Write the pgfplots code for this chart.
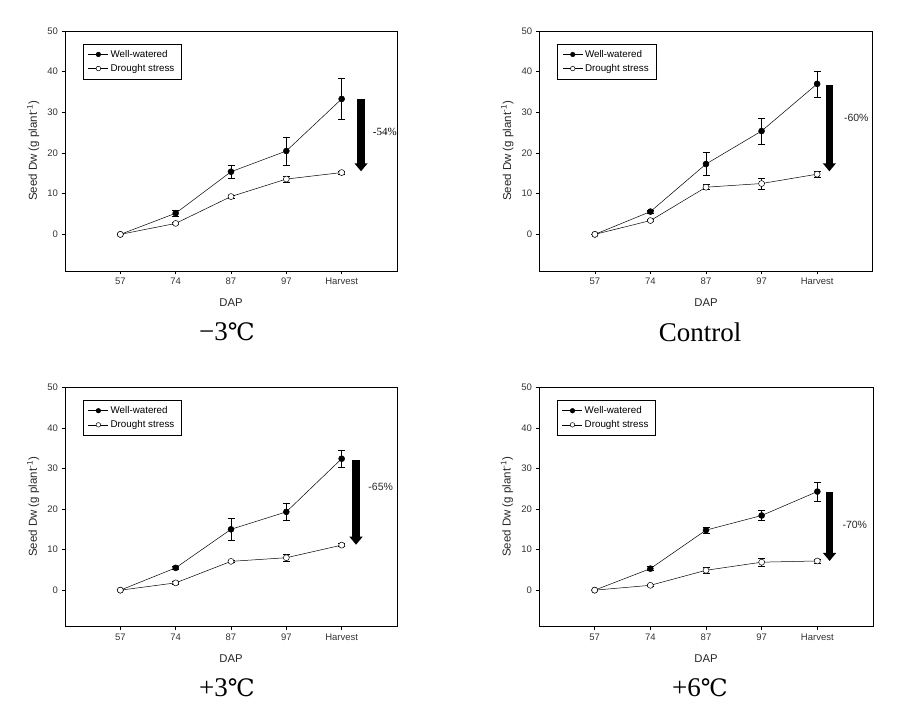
\documentclass[border=0pt]{standalone}
\usepackage{pgfplots}
\pgfplotsset{compat=1.18}
\usepackage{fontspec}
\setmainfont{Liberation Sans}
\newfontfamily\serifnum{Liberation Serif}
\newfontfamily\degfont{DejaVu Serif}
\usetikzlibrary{arrows.meta}

\pgfplotsset{
  panel/.style={
    scale only axis, height=240pt,
    xmin=-1, xmax=5, ymin=-9, ymax=50,
    xtick={0,1,2,3,4}, xticklabels={57,74,87,97,Harvest},
    ytick={0,10,20,30,40,50},
    tick align=outside, xtick pos=bottom, ytick pos=left,
    major tick length=3.5pt,
    tick style={black, line width=0.6pt},
    axis line style={line width=0.7pt},
    /pgf/number format/assume math mode=true,
    ticklabel style={font=\fontsize{9.5}{10}\selectfont, text=black!80},
    xlabel={DAP},
    xlabel style={at={(axis description cs:0.5,0)}, anchor=center, yshift=-32pt, font=\fontsize{11.3}{12}\selectfont, text=black!85},
    ylabel={Seed Dw (g plant\textsuperscript{-1})},
    ylabel style={at={(axis description cs:-0.096,0.5)}, anchor=center, font=\fontsize{11.5}{12}\selectfont, text=black!85},
    legend style={at={(0.054,0.946)}, anchor=north west, draw=black, font=\fontsize{9.8}{11}\selectfont,
      inner xsep=5pt, inner ysep=4pt, row sep=1.5pt, cells={anchor=west},
      /tikz/every even column/.append style={column sep=3.5pt}},
    legend image code/.code={\draw[mark repeat=2, mark phase=2, mark size=2.3pt] plot coordinates {(0pt,0pt) (10pt,0pt) (20pt,0pt)};},
    clip=false,
  },
  ww/.style={black, line width=0.5pt, mark=*, mark size=3pt, mark options={fill=black, line width=0.5pt},
    error bars/.cd, y dir=both, y explicit,
    error bar style={line width=0.6pt},
    error mark options={rotate=90, mark size=3.5pt, line width=0.6pt}},
  ds/.style={black, line width=0.5pt, mark=*, mark size=3pt, mark options={fill=white, line width=0.5pt},
    error bars/.cd, y dir=both, y explicit,
    error bar style={line width=0.6pt},
    error mark options={rotate=90, mark size=3.5pt, line width=0.6pt}},
  bigarrow/.style={forget plot, black, line width=7.3pt, -{Triangle[length=8pt 0 0, width=12.7pt 0 0]}},
}

\begin{document}
\begin{tikzpicture}
\path[use as bounding box] (0,0) rectangle (903pt,706pt);

% ---------- -3 C ----------
\begin{axis}[panel, width=332pt, at={(65pt,435pt)}, anchor=south west]
\addplot+[ww] coordinates {(0,0) +- (0,0) (1,5.2) +- (0,0.7) (2,15.4) +- (0,1.6) (3,20.5) +- (0,3.4) (4,33.3) +- (0,5.0)};
\addlegendentry{Well-watered}
\addplot+[ds] coordinates {(0,0) +- (0,0) (1,2.7) +- (0,0.3) (2,9.3) +- (0,0.4) (3,13.6) +- (0,0.7) (4,15.2) +- (0,0.4)};
\addlegendentry{Drought stress}
\addplot[bigarrow] coordinates {(4.35,33.3) (4.35,15.5)};
\node[anchor=west, font=\serifnum\fontsize{11}{12}\selectfont] at (axis cs:4.5,25.2) {-54\%};
\end{axis}

% ---------- Control ----------
\begin{axis}[panel, width=333.4pt, at={(539.3pt,435pt)}, anchor=south west]
\addplot+[ww] coordinates {(0,0) +- (0,0) (1,5.6) +- (0,0.4) (2,17.3) +- (0,2.8) (3,25.4) +- (0,3.2) (4,37.0) +- (0,3.2)};
\addlegendentry{Well-watered}
\addplot+[ds] coordinates {(0,0) +- (0,0) (1,3.4) +- (0,0.3) (2,11.6) +- (0,0.6) (3,12.5) +- (0,1.4) (4,14.8) +- (0,0.8)};
\addlegendentry{Drought stress}
\addplot[bigarrow] coordinates {(4.22,36.7) (4.22,15.5)};
\node[anchor=west, font=\fontsize{10.5}{12}\selectfont, text=black!85] at (axis cs:4.42,28.7) {-60\%};
\end{axis}

% ---------- +3 C ----------
\begin{axis}[panel, width=332pt, height=239.4pt, at={(65pt,79.3pt)}, anchor=south west]
\addplot+[ww] coordinates {(0,0) +- (0,0) (1,5.5) +- (0,0.4) (2,15.0) +- (0,2.8) (3,19.3) +- (0,2.1) (4,32.4) +- (0,2.1)};
\addlegendentry{Well-watered}
\addplot+[ds] coordinates {(0,0) +- (0,0) (1,1.8) +- (0,0.3) (2,7.1) +- (0,0.3) (3,8.0) +- (0,0.9) (4,11.1) +- (0,0.4)};
\addlegendentry{Drought stress}
\addplot[bigarrow] coordinates {(4.26,32.0) (4.26,11.2)};
\node[anchor=west, font=\fontsize{10.5}{12}\selectfont, text=black!85] at (axis cs:4.42,25.4) {-65\%};
\end{axis}

% ---------- +6 C ----------
\begin{axis}[panel, width=334pt, height=239.4pt, at={(539pt,79.3pt)}, anchor=south west]
\addplot+[ww] coordinates {(0,0) +- (0,0) (1,5.3) +- (0,0.5) (2,14.8) +- (0,0.8) (3,18.4) +- (0,1.3) (4,24.3) +- (0,2.4)};
\addlegendentry{Well-watered}
\addplot+[ds] coordinates {(0,0) +- (0,0) (1,1.2) +- (0,0.3) (2,4.9) +- (0,0.7) (3,6.9) +- (0,1.0) (4,7.2) +- (0,0.5)};
\addlegendentry{Drought stress}
\addplot[bigarrow] coordinates {(4.22,24.2) (4.22,7.2)};
\node[anchor=west, font=\fontsize{10.5}{12}\selectfont, text=black!85] at (axis cs:4.39,16.2) {-70\%};
\end{axis}

% ---------- captions ----------
\node[font=\serifnum\fontsize{27}{30}\selectfont] at (227pt,374pt) {−3{\degfont\fontsize{24}{30}\selectfont ℃}};
\node[font=\serifnum\fontsize{27}{30}\selectfont] at (700pt,374pt) {Control};
\node[font=\serifnum\fontsize{27}{30}\selectfont] at (227pt,18pt) {+3{\degfont\fontsize{24}{30}\selectfont ℃}};
\node[font=\serifnum\fontsize{27}{30}\selectfont] at (700pt,18pt) {+6{\degfont\fontsize{24}{30}\selectfont ℃}};
\end{tikzpicture}
\end{document}
